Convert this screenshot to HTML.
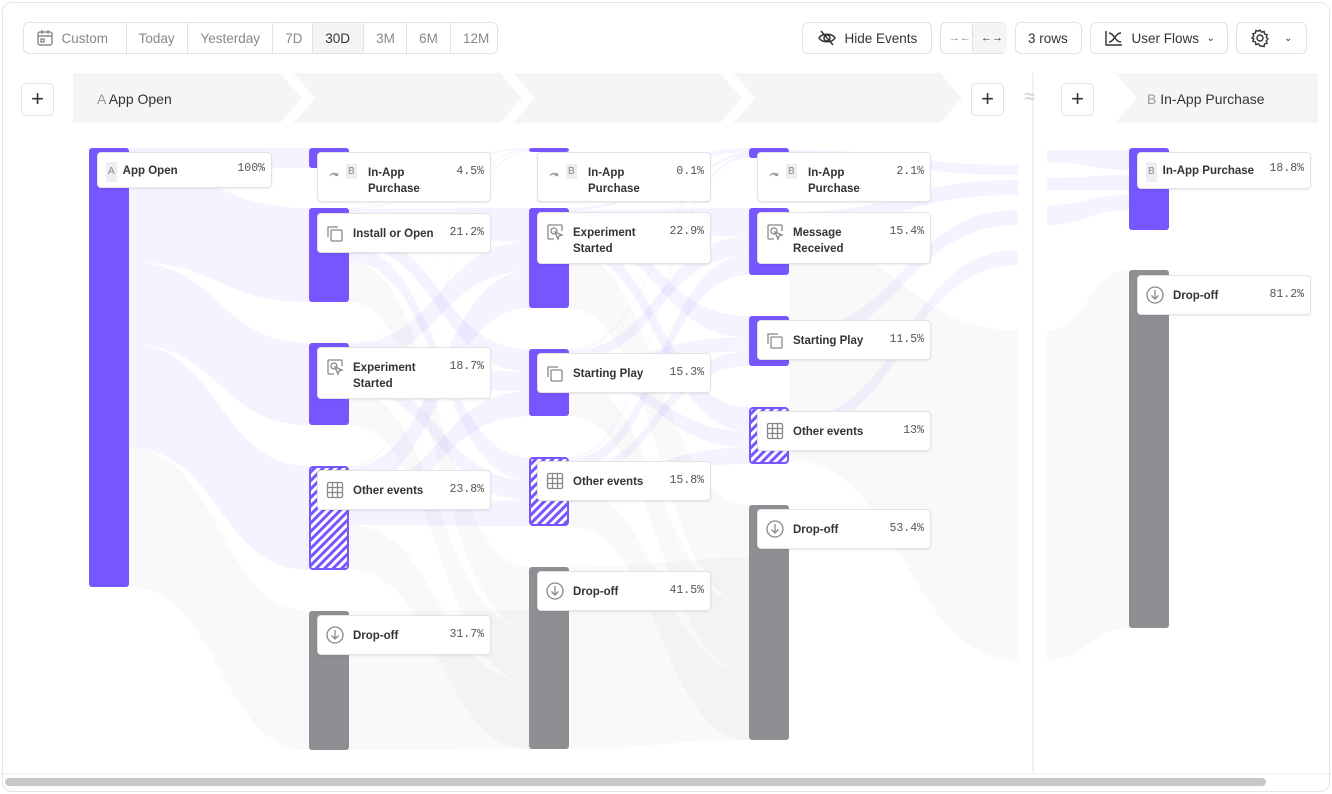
<!DOCTYPE html>
<html><head><meta charset="utf-8"><style>
*{box-sizing:border-box}
body{margin:0;width:1332px;height:794px;background:#fff;font-family:"Liberation Sans",sans-serif;overflow:hidden;position:relative}
.frame{position:absolute;left:2px;top:2px;width:1328px;height:790px;border:1px solid #e6e6e6;border-radius:10px}
.btn{position:absolute;top:22px;height:32px;border:1px solid #e2e2e2;border-radius:6px;background:#fff;font-size:13.5px;color:#333;display:flex;align-items:center}
.seg{height:100%;display:flex;align-items:center;padding:0 12px;border-right:1px solid #e2e2e2;color:#888}
.seg:last-child{border-right:none}
.card{position:absolute;background:#fff;border:1px solid #e3e3e3;border-radius:4px;box-shadow:0 1px 2px rgba(0,0,0,.08);font-size:11.5px;font-weight:bold;color:#333}
.card .l{position:absolute;left:35px;top:12px;line-height:16px}
.card .p{position:absolute;right:6px;top:12px;font-family:"Liberation Mono",monospace;font-weight:normal;color:#555;font-size:11.5px}
.card .ic{position:absolute;left:8px;top:10px;width:18px;height:18px}
.badge{display:inline-block;background:#eee;color:#888;font-weight:normal;font-size:10px;padding:2px 2px;margin-right:6px}
.plus{position:absolute;top:83px;width:33px;height:33px;border:1px solid #e2e2e2;border-radius:5px;background:#fff;font-size:22px;color:#333;text-align:center;line-height:30px}
</style></head><body>
<div class="frame"></div>
<div class="btn" style="left:23px;width:475px">
 <div class="seg" style="width:103px"><svg width="18" height="18" viewBox="0 0 18 18" fill="none" stroke="#888" stroke-width="1.4"><rect x="2" y="3" width="14" height="13" rx="2"/><path d="M2 7h14M6 1v4M12 1v4"/><rect x="5" y="10" width="3" height="3"/></svg>&nbsp;&nbsp;Custom</div>
 <div class="seg" style="width:62px">Today</div>
 <div class="seg" style="width:85px">Yesterday</div>
 <div class="seg" style="width:40px">7D</div>
 <div class="seg" style="width:51px;background:#f5f5f5;color:#333">30D</div>
 <div class="seg" style="width:43px">3M</div>
 <div class="seg" style="width:44px">6M</div>
 <div class="seg" style="width:46px">12M</div>
</div>
<div class="btn" style="left:802px;width:130px;padding-left:14px"><svg width="20" height="18" viewBox="0 0 20 18" fill="none" stroke="#333" stroke-width="1.5"><path d="M2 9c3-5 13-5 16 0c-3 5-13 5-16 0z"/><circle cx="10" cy="9" r="3"/><path d="M4 2l12 14"/></svg>&nbsp;&nbsp;Hide Events</div>
<div class="btn" style="left:940px;width:67px"><div class="seg" style="width:32px;padding:0 8px;font-size:11px">→←</div><div class="seg" style="width:34px;padding:0 8px;background:#f5f5f5;color:#333;font-size:11px">←→</div></div>
<div class="btn" style="left:1015px;width:67px;padding-left:12px">3 rows</div>
<div class="btn" style="left:1090px;width:138px;padding-left:13px"><svg width="20" height="18" viewBox="0 0 20 18" fill="none" stroke="#333" stroke-width="1.4"><path d="M2 2v14h16M5 4c5 0 6 9 12 9M5 13c5 0 6-9 12-9"/></svg>&nbsp;&nbsp;User Flows&nbsp;&nbsp;<span style="font-size:10px">⌄</span></div>
<div class="btn" style="left:1236px;width:71px;padding-left:13px"><svg width="20" height="20" viewBox="0 0 20 20" fill="none" stroke="#333" stroke-width="1.4"><circle cx="10" cy="10" r="3"/><path d="M10 2l1.5 2.2 2.6-.8.4 2.6 2.6.7-.9 2.5 1.8 1.8-1.8 1.8.9 2.5-2.6.7-.4 2.6-2.6-.8L10 18l-1.5-2.2-2.6.8-.4-2.6-2.6-.7.9-2.5L2 10l1.8-1.8-.9-2.5 2.6-.7.4-2.6 2.6.8z"/></svg><span style="margin-left:14px;font-size:10px">⌄</span></div>

<svg width="1332" height="794" style="position:absolute;left:0;top:0" id="s">
 <defs><pattern id="h" width="6" height="6" patternUnits="userSpaceOnUse" patternTransform="rotate(45)"><rect width="6" height="6" fill="#fff"/><rect width="3" height="6" fill="#7856ff"/></pattern></defs>
 <polygon points="73,73 280,73 302,98 280,123 73,123" fill="#f5f5f5"/>
 <polygon points="293,73 500,73 522,98 500,123 293,123 315,98" fill="#f5f5f5"/>
 <polygon points="513,73 720,73 742,98 720,123 513,123 535,98" fill="#f5f5f5"/>
 <polygon points="733,73 940,73 962,98 940,123 733,123 755,98" fill="#f5f5f5"/>
 <polygon points="1115,73 1318,73 1318,123 1115,123 1137,98" fill="#f5f5f5"/>
 <line x1="1033" y1="73" x2="1033" y2="773" stroke="#e3e3e3"/>
 <g id="flows"></g>
 <g id="bars"></g>
 <rect x="5" y="778" width="1261" height="8" rx="4" fill="#c8c8c8"/>
 <line x1="0" y1="774" x2="1332" y2="774" stroke="#eee"/>
</svg>
<div class="plus" style="left:21px">+</div>
<div class="plus" style="left:971px">+</div>
<div class="plus" style="left:1061px">+</div>
<div style="position:absolute;left:1024px;top:86px;color:#ccc;font-size:20px">≈</div>
<div style="position:absolute;left:97px;top:91px;font-size:14px;color:#333"><span style="color:#999">A</span> App Open</div>
<div style="position:absolute;left:1147px;top:91px;font-size:14px;color:#333"><span style="color:#999">B</span> In-App Purchase</div>
<div id="cards"></div>
<script>
var P='#7856ff',G='#8e8e93';
var cols=[
 {x:89,n:[[148,587,'p']]},
 {x:309,n:[[148,168,'p'],[208,302,'p'],[343,425,'p'],[466,570,'h'],[611,750,'g']]},
 {x:529,n:[[148,152,'p'],[208,308,'p'],[349,416,'p'],[457,526,'h'],[567,749,'g']]},
 {x:749,n:[[148,158,'p'],[208,275,'p'],[316,366,'p'],[407,464,'h'],[505,740,'g']]},
 {x:1129,n:[[148,230,'p'],[270,628,'g']]}
];
var PO=0.07,GO=0.022;
function band(x1,a1,b1,x2,a2,b2){var m=(x1+x2)/2;return 'M'+x1+' '+a1+'C'+m+' '+a1+' '+m+' '+a2+' '+x2+' '+a2+'L'+x2+' '+b2+'C'+m+' '+b2+' '+m+' '+b1+' '+x1+' '+b1+'Z';}
var f='';
for(var c=0;c<3;c++){
 var S=cols[c].n,T=cols[c+1].n,x1=cols[c].x+40,x2=cols[c+1].x;
 var toff=T.map(function(t){return t[0];});
 var src=S.filter(function(s){return s[2]!='g'&&!(c>0&&s==S[0]);});
 var tot=0;src.forEach(function(s){tot+=s[1]-s[0];});
 var tsum=T.reduce(function(a,u){return a+u[1]-u[0];},0);
 src.forEach(function(s,si){
  var sh=s[1]-s[0],so=s[0];
  T.forEach(function(t,ti){
   var th=t[1]-t[0];var share=sh*th/tsum;
   var tw=th*sh/tot;
   var col=t[2]=='g'?'#000':P, op=t[2]=='g'?GO:PO;
   f+='<path d="'+band(x1,so,so+share,x2,toff[ti],toff[ti]+tw)+'" fill="'+col+'" fill-opacity="'+op+'"/>';
   so+=share;toff[ti]+=tw;
  });
 });
 var d=S[S.length-1];
 if(d[2]=='g'){var tdd=T[T.length-1];f+='<path d="'+band(x1,d[0],d[1],x2,tdd[1]-(d[1]-d[0]),tdd[1])+'" fill="#000" fill-opacity="'+GO+'"/>';}
}
var c3=cols[3].n;
f+='<path d="'+band(789,212,226,1018,180,195)+'" fill="'+P+'" fill-opacity="'+PO+'"/>';
f+='<path d="'+band(789,330,344,1018,210,225)+'" fill="'+P+'" fill-opacity="'+PO+'"/>';
f+='<path d="'+band(789,420,434,1018,250,265)+'" fill="'+P+'" fill-opacity="'+PO+'"/>';
f+='<path d="'+band(789,150,158,1018,165,175)+'" fill="'+P+'" fill-opacity="'+PO+'"/>';
f+='<path d="'+band(789,240,460,1018,330,660)+'" fill="#000" fill-opacity="'+GO+'"/>';
f+='<path d="'+band(1047,150,162,1129,150,170)+'" fill="'+P+'" fill-opacity="'+PO+'"/>';
f+='<path d="'+band(1047,178,190,1129,175,190)+'" fill="'+P+'" fill-opacity="'+PO+'"/>';
f+='<path d="'+band(1047,205,225,1129,195,210)+'" fill="'+P+'" fill-opacity="'+PO+'"/>';
f+='<path d="'+band(1047,330,660,1129,270,628)+'" fill="#000" fill-opacity="'+GO+'"/>';
document.getElementById('flows').innerHTML=f;
var b='';
cols.forEach(function(c){c.n.forEach(function(n){
 var fill=n[2]=='p'?P:n[2]=='g'?G:'url(#h)';
 b+='<rect x="'+(n[2]=='h'?c.x+1:c.x)+'" y="'+(n[2]=='h'?n[0]+1:n[0])+'" width="'+(n[2]=='h'?38:40)+'" height="'+Math.max(n[1]-n[0]-(n[2]=='h'?2:0),4)+'" rx="3" fill="'+fill+'"'+(n[2]=='h'?' stroke="#7856ff" stroke-width="2"':'')+'/>';
});});
document.getElementById('bars').innerHTML=b;
var I={
 b:'<svg class="ic" style="left:10px;top:14px;width:14px;height:12px" viewBox="0 0 18 14"><path d="M2 10c3-4 7-4 10-2l1-3v6h-6l3-1c-3-2-5-1-8 1z" fill="#999"/></svg>',
 cp:'<svg class="ic" viewBox="0 0 18 18" fill="none" stroke="#888" stroke-width="1.3"><path d="M2 13V3h10"/><rect x="5" y="6" width="11" height="11" rx="1"/></svg>',
 cu:'<svg class="ic" viewBox="0 0 18 18" fill="none" stroke="#888" stroke-width="1.3"><path d="M8 16H3a1 1 0 0 1-1-1V3a1 1 0 0 1 1-1h12a1 1 0 0 1 1 1v5"/><circle cx="8" cy="8" r="3"/><path d="M9 9l7 3-3 1-1 3z"/></svg>',
 gr:'<svg class="ic" viewBox="0 0 18 18" fill="none" stroke="#888" stroke-width="1.3"><rect x="1.5" y="1.5" width="15" height="15" rx="1.5"/><path d="M6.5 1.5v15M11.5 1.5v15M1.5 6.5h15M1.5 11.5h15"/></svg>',
 dn:'<svg class="ic" viewBox="0 0 18 18" fill="none" stroke="#888" stroke-width="1.3"><circle cx="9" cy="9" r="8"/><path d="M9 4v9M5.5 9.5L9 13l3.5-3.5"/></svg>'
};
var cards=[
 [97,152,175,36,'<span class="badge">A</span>App Open','100%','A'],
 [317,152,174,50,'In-App<br>Purchase','4.5%','b'],[317,213,174,40,'Install or Open','21.2%','cp'],[317,347,174,52,'Experiment<br>Started','18.7%','cu'],[317,470,174,40,'Other events','23.8%','gr'],[317,615,174,40,'Drop-off','31.7%','dn'],
 [537,152,174,50,'In-App<br>Purchase','0.1%','b'],[537,212,174,52,'Experiment<br>Started','22.9%','cu'],[537,353,174,40,'Starting Play','15.3%','cp'],[537,461,174,40,'Other events','15.8%','gr'],[537,571,174,40,'Drop-off','41.5%','dn'],
 [757,152,174,50,'In-App<br>Purchase','2.1%','b'],[757,212,174,52,'Message<br>Received','15.4%','cu'],[757,320,174,40,'Starting Play','11.5%','cp'],[757,411,174,40,'Other events','13%','gr'],[757,509,174,40,'Drop-off','53.4%','dn'],
 [1137,152,174,37,'<span class="badge">B</span>In-App Purchase','18.8%','B'],[1137,275,174,40,'Drop-off','81.2%','dn']
];
var h='';
cards.forEach(function(c){
 var ic=c[6],lab=c[4],left=35,icon='';
 var top=(c[3]<=37?9:c[3]==40?12:12);
 if(ic=='A'||ic=='B'){left=8;}
 else if(ic=='b'){icon=I.b+'<span class="badge" style="position:absolute;left:28px;top:'+(top-1)+'px">B</span>';left=50;}
 else icon=I[ic];
 h+='<div class="card" style="left:'+c[0]+'px;top:'+c[1]+'px;width:'+c[2]+'px;height:'+c[3]+'px">'+icon+'<div class="l" style="left:'+left+'px;top:'+top+'px">'+lab+'</div><div class="p" style="top:'+top+'px">'+c[5]+'</div></div>';
});
document.getElementById('cards').innerHTML=h;
</script>
</body></html>
